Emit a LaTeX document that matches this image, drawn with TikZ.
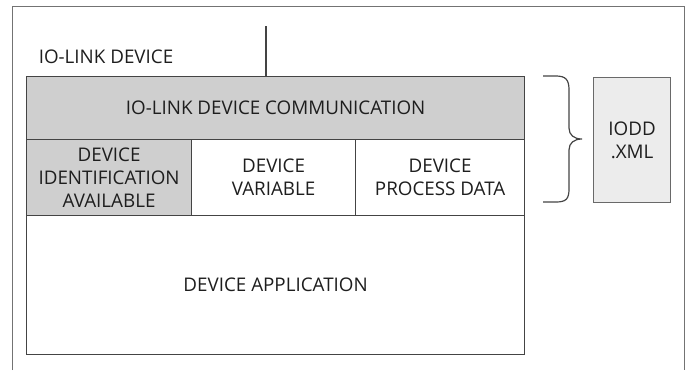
\documentclass[tikz,border=0pt]{standalone}
\usepackage{fontspec}
\setmainfont{Open Sans}
\usetikzlibrary{positioning}
\definecolor{boxgray}{HTML}{CFCFCF}
\definecolor{filegray}{HTML}{ECECEC}
\definecolor{linegray}{HTML}{444444}
\definecolor{textgray}{HTML}{1E1E1E}

\begin{document}
\begin{tikzpicture}[x=1pt,y=-1pt,font=\fontsize{18.8}{23}\selectfont,text=textgray]
    \tikzstyle{cell}=[draw=linegray,line width=1.2pt,inner sep=0pt,align=center,anchor=north west]
    \tikzstyle{graycell}=[cell,fill=boxgray]
    \tikzstyle{whitecell}=[cell,fill=white]
    \tikzstyle{filebox}=[cell,fill=filegray,draw=linegray!80]

    \useasboundingbox (0,0) rectangle (690,370);

    % Outer frame, open at the bottom
    \draw[black!55,line width=0.8pt] (12,370) -- (12,6) -- (684,6) -- (684,370);

    % Communication band
    \node[graycell,minimum width=498pt,minimum height=63pt] (comm) at (26,76) {IO-LINK DEVICE COMMUNICATION};

    % Middle row
    \node[graycell,minimum width=165pt,minimum height=76pt] (ident) at (26,139) {DEVICE\\IDENTIFICATION\\AVAILABLE};
    \node[whitecell,minimum width=164pt,minimum height=76pt] (var) at (191,139) {DEVICE\\VARIABLE};
    \node[whitecell,minimum width=169pt,minimum height=76pt] (proc) at (355,139) {DEVICE\\PROCESS DATA};

    % Application
    \node[whitecell,minimum width=498pt,minimum height=139pt] (app) at (26,215) {DEVICE APPLICATION};

    % Label and connection line
    \node (devlabel) at (106,57) {IO-LINK DEVICE};
    \coordinate (linetop) at (266,26);
    \draw[linegray,line width=1.2pt] (linetop) -- (linetop |- comm.north);

    % Description file
    \node[filebox,minimum width=77pt,minimum height=125pt] (iodd) at (593,77) {IODD\\.XML};

    % Curly brace pointing at the file
    \coordinate (bracetop) at (543,76);
    \coordinate (bracetip) at (582,139);
    \coordinate (bracebot) at (543,202);
    \draw[linegray,line width=1.2pt]
        (bracetop) -- (556,76) .. controls (566,76) and (569,80) .. (569,90)
        -- (569,128) .. controls (569,135) and (574,139) .. (bracetip)
        .. controls (574,139) and (569,143) .. (569,150)
        -- (569,189) .. controls (569,199) and (566,202) .. (556,202) -- (bracebot);
\end{tikzpicture}
\end{document}
